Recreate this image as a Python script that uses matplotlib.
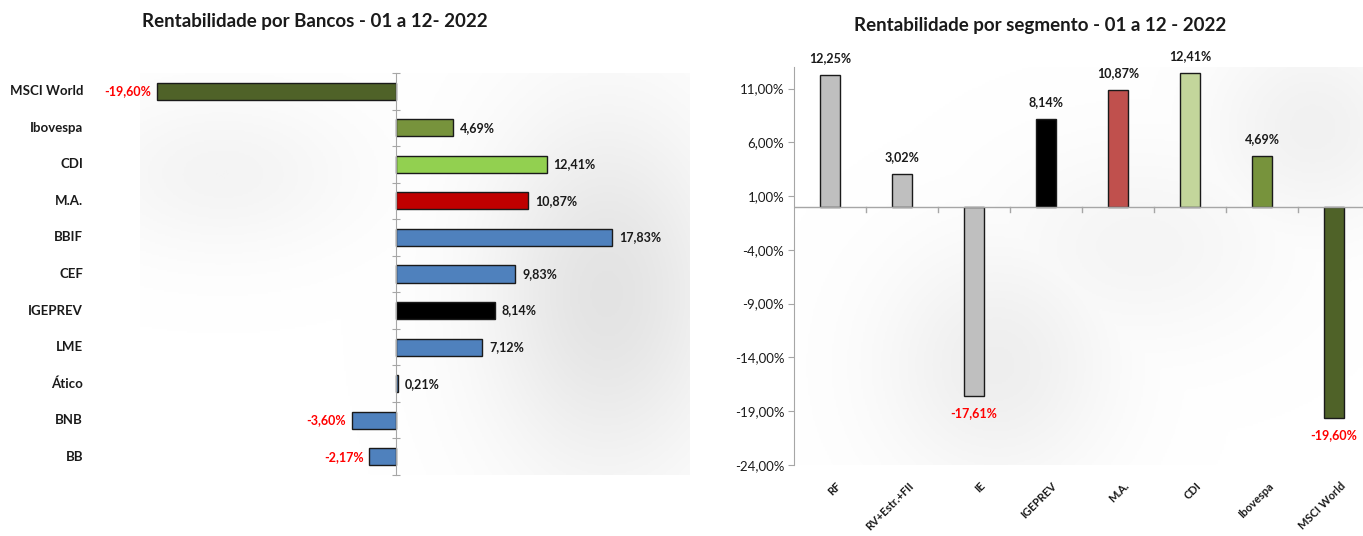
import numpy as np
import matplotlib
matplotlib.use("Agg")
import matplotlib.pyplot as plt
from matplotlib.colors import LinearSegmentedColormap

plt.rcParams['font.family'] = ['Lato', 'DejaVu Sans']

# ---- data: left chart (banks) ----
bank_names = ["MSCI World", "Ibovespa", "CDI", "M.A.", "BBIF", "CEF",
              "IGEPREV", "LME", "Ático", "BNB", "BB"]
bank_values = [-19.60, 4.69, 12.41, 10.87, 17.83, 9.83, 8.14, 7.12, 0.21, -3.60, -2.17]
bank_colors = ["#4F6228", "#77933C", "#92D050", "#C00000", "#4F81BD", "#4F81BD",
               "#000000", "#4F81BD", "#4F81BD", "#4F81BD", "#4F81BD"]

# ---- data: right chart (segments) ----
seg_names = ["RF", "RV+Estr.+FII", "IE", "IGEPREV", "M.A.", "CDI", "Ibovespa", "MSCI World"]
seg_values = [12.25, 3.02, -17.61, 8.14, 10.87, 12.41, 4.69, -19.60]
seg_colors = ["#BFBFBF", "#BFBFBF", "#BFBFBF", "#000000", "#C0504D", "#C3D69B",
              "#77933C", "#4F6228"]
seg_yticks = [11, 6, 1, -4, -9, -14, -19, -24]

W, H = 1363, 536
fig = plt.figure(figsize=(W / 100, H / 100), dpi=100)
fig.patch.set_facecolor("white")


def fmt(v):
    return f"{v:.2f}".replace(".", ",") + "%"


def shade(ax, blobs):
    xs = np.linspace(0, 1, 300)
    ys = np.linspace(0, 1, 200)
    X, Y = np.meshgrid(xs, ys)
    Z = np.zeros_like(X)
    for cx, cy, sx, sy, a in blobs:
        Z = np.maximum(Z, a * np.exp(-(((X - cx) / sx) ** 2 + ((Y - cy) / sy) ** 2)))
    cmap = LinearSegmentedColormap.from_list("g", ["#FFFFFF", "#C8C8C8"])
    ax.imshow(Z, extent=(0, 1, 0, 1), origin="lower", cmap=cmap, vmin=0, vmax=1,
              transform=ax.transAxes, aspect="auto", zorder=0, interpolation="bilinear")


# ---------------- left chart ----------------
axL = fig.add_axes([140 / W, 1 - 475 / H, (690 - 140) / W, (475 - 73) / H])
shade(axL, [(0.85, 0.45, 0.22, 0.45, 0.5), (0.15, 0.75, 0.25, 0.2, 0.2)])
yL = np.arange(len(bank_names))
axL.barh(yL, bank_values, height=0.47, color=bank_colors, edgecolor="#1a1a1a",
         linewidth=1.0, zorder=3)
axL.set_ylim(len(bank_names) - 0.5, -0.5)
axL.set_xlim(-21.0, 24.2)
axL.set_xticks([])
for s in ["top", "right", "bottom"]:
    axL.spines[s].set_visible(False)
axL.spines["left"].set_position(("data", 0))
axL.spines["left"].set_color("#A6A6A6")
axL.spines["left"].set_zorder(4)
axL.set_yticks(np.arange(len(bank_names) + 1) - 0.5)
axL.set_yticklabels([])
axL.tick_params(axis="y", direction="inout", length=6, color="#A6A6A6")
for i, (n, v) in enumerate(zip(bank_names, bank_values)):
    axL.annotate(n, xy=(0, i), xycoords=("figure fraction", "data"),
                 xytext=(83, 0), textcoords="offset pixels", ha="right", va="center",
                 fontsize=9.5, fontweight="bold", color="#1a1a1a")
    if v >= 0:
        axL.annotate(fmt(v), xy=(v, i), xytext=(5, 0), textcoords="offset points",
                     ha="left", va="center", fontsize=9, fontweight="bold", color="#1a1a1a",
                     zorder=5)
    else:
        axL.annotate(fmt(v), xy=(v, i), xytext=(-4, 0), textcoords="offset points",
                     ha="right", va="center", fontsize=9, fontweight="bold", color="#FF0000",
                     zorder=5)
fig.text(315 / W, 1 - 21 / H, "Rentabilidade por Bancos - 01 a 12- 2022", ha="center",
         va="center", fontsize=13.5, fontweight="bold", color="#1a1a1a")

# ---------------- right chart ----------------
axR = fig.add_axes([794 / W, 1 - 465 / H, (1370 - 794) / W, (465 - 67) / H])
shade(axR, [(0.35, 0.25, 0.2, 0.3, 0.3), (0.9, 0.85, 0.18, 0.25, 0.25),
            (0.6, 0.55, 0.25, 0.25, 0.18)])
xR = np.arange(len(seg_names))
axR.bar(xR, seg_values, width=0.28, color=seg_colors, edgecolor="#1a1a1a",
        linewidth=1.0, zorder=3)
axR.set_xlim(-0.5, len(seg_names) - 0.5)
axR.set_ylim(-24, 13.0)
for s in ["top", "right", "bottom"]:
    axR.spines[s].set_visible(False)
axR.spines["left"].set_color("#A6A6A6")
axR.set_yticks(seg_yticks)
axR.set_yticklabels([fmt(t) for t in seg_yticks], fontsize=9.5, color="#1a1a1a")
axR.tick_params(axis="y", length=4, color="#A6A6A6", pad=3)
axR.axhline(0, color="#A6A6A6", linewidth=1.0, zorder=4)
for b in np.arange(len(seg_names)) + 0.5:
    axR.plot([b, b], [0, -0.5], color="#A6A6A6", linewidth=1.0, zorder=4,
             clip_on=False)
axR.set_xticks(xR)
axR.set_xticklabels([])
axR.tick_params(axis="x", length=0)
for i, (n, v) in enumerate(zip(seg_names, seg_values)):
    axR.annotate(n, xy=(i, 0), xycoords=("data", "axes fraction"),
                 xytext=(4, -11), textcoords="offset points", ha="right", va="top",
                 rotation=45, rotation_mode="anchor", fontsize=8, fontweight="bold",
                 color="#1a1a1a")
    if v >= 0:
        axR.annotate(fmt(v), xy=(i, v), xytext=(0, 8), textcoords="offset points",
                     ha="center", va="bottom", fontsize=9, fontweight="bold",
                     color="#1a1a1a", zorder=5)
    else:
        axR.annotate(fmt(v), xy=(i, v), xytext=(0, -8), textcoords="offset points",
                     ha="center", va="top", fontsize=9, fontweight="bold",
                     color="#FF0000", zorder=5)
fig.text(1040 / W, 1 - 25 / H, "Rentabilidade por segmento - 01 a 12 - 2022", ha="center",
         va="center", fontsize=13.5, fontweight="bold", color="#1a1a1a")

fig.savefig("out.png", dpi=100, facecolor="white")
